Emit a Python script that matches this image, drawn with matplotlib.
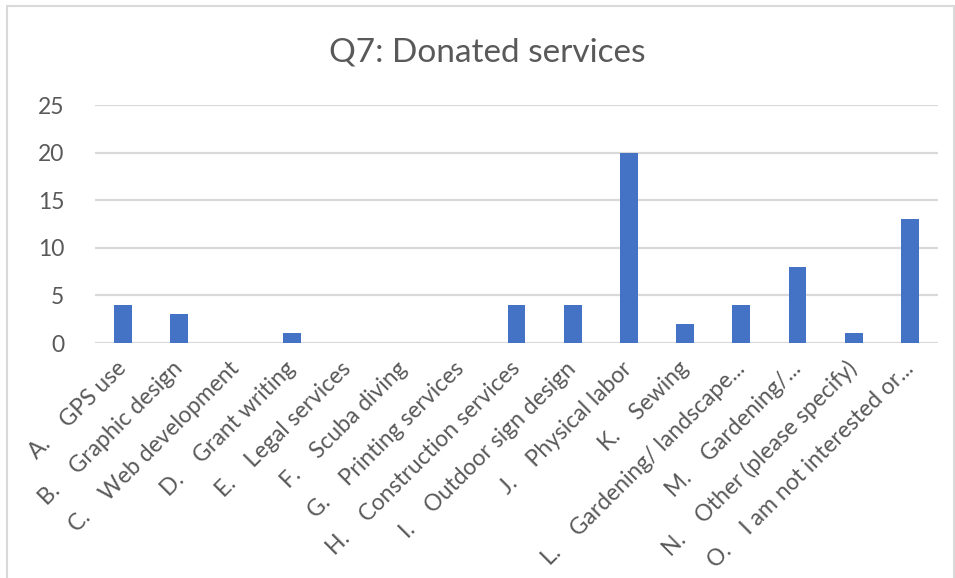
import matplotlib
matplotlib.use("Agg")
import matplotlib.pyplot as plt
from matplotlib.patches import Rectangle

# Survey responses: donated services
letters = ["A.", "B.", "C.", "D.", "E.", "F.", "G.", "H.", "I.", "J.", "K.", "L.", "M.", "N.", "O."]
services = [
    "GPS use",
    "Graphic design",
    "Web development",
    "Grant writing",
    "Legal services",
    "Scuba diving",
    "Printing services",
    "Construction services",
    "Outdoor sign design",
    "Physical labor",
    "Sewing",
    "Gardening/ landscape...",
    "Gardening/...",
    "Other (please specify)",
    "I am not interested or...",
]
counts = [4, 3, 0, 1, 0, 0, 0, 4, 4, 20, 2, 4, 8, 1, 13]
y_ticks = [0, 5, 10, 15, 20, 25]

title = "Q7: Donated services"

FONT = ["Lato", "DejaVu Sans"]
TEXT_COLOR = "#595959"
BAR_COLOR = "#4472C4"
GRID_COLOR = "#D9D9D9"

plt.rcParams["font.family"] = FONT

W, H = 955, 578
fig = plt.figure(figsize=(W / 100, H / 100), dpi=100)
fig.patch.set_facecolor("white")

# light chart-area border
fig.patches.append(Rectangle((7 / W, -0.05), (954 - 7) / W, 1.05 - 6 / H,
                             transform=fig.transFigure, fill=False,
                             edgecolor="#D9D9D9", linewidth=1.5))

ax = fig.add_axes([95 / W, (H - 343) / H, (938 - 95) / W, (343 - 105) / H])

labels = [f"{l}    {s}" for l, s in zip(letters, services)]
x = list(range(len(counts)))
ax.bar(x, counts, width=0.32, color=BAR_COLOR, zorder=3)

ax.set_xlim(-0.5, len(counts) - 0.5)
ax.set_ylim(0, 25)
ax.set_yticks(y_ticks)
ax.grid(axis="y", color=GRID_COLOR, linewidth=1.6, zorder=0)
ax.set_axisbelow(True)

for side in ["top", "right", "left", "bottom"]:
    ax.spines[side].set_visible(False)

ax.tick_params(axis="both", length=0, colors=TEXT_COLOR, labelsize=16.5)
ax.tick_params(axis="y", pad=22)
ax.set_xticks(x)
ax.set_xticklabels(labels, rotation=45, ha="right", va="center",
                   rotation_mode="anchor", color=TEXT_COLOR)
ax.tick_params(axis="x", pad=16)

fig.text(487 / W, 1 - 52 / H, title, ha="center", va="center",
         fontsize=24, color=TEXT_COLOR)

fig.savefig("out.png", dpi=100, facecolor="white")
